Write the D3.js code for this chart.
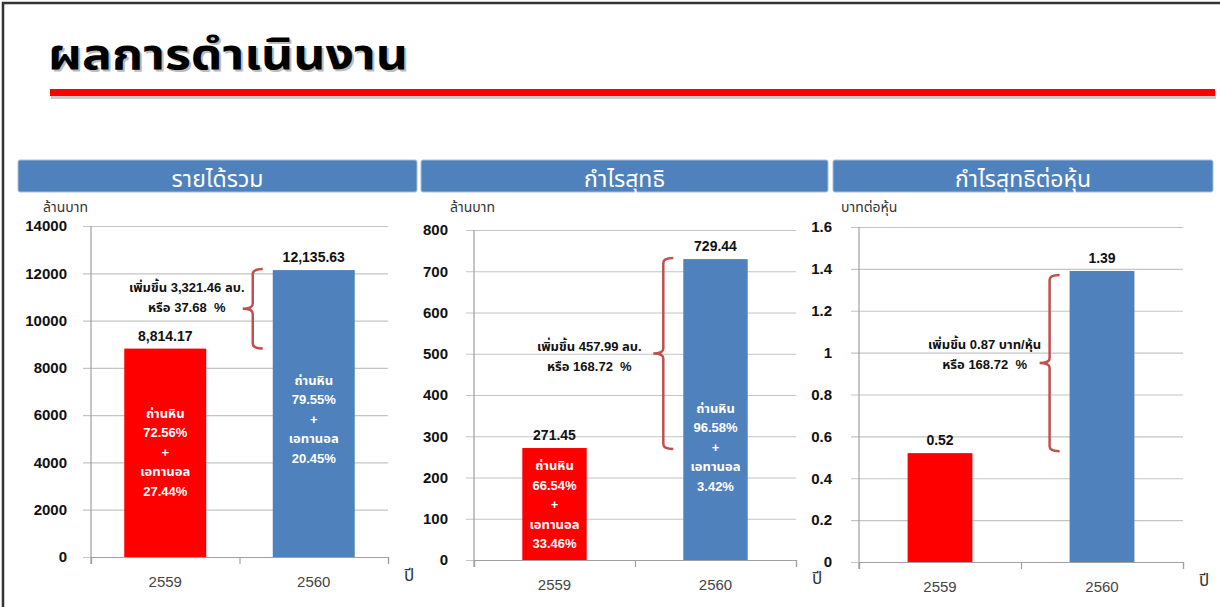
<!DOCTYPE html>
<html>
<head>
<meta charset="utf-8">
<script src="https://cdn.jsdelivr.net/npm/d3@7"></script>
<style>
  body { margin: 0; background: #fff; }
  svg { display: block; font-family: "Liberation Sans", Arial, "Noto Sans Thai", "Noto Sans", sans-serif; }
  .note { white-space: pre; }
</style>
</head>
<body>
<svg id="chart" width="1220" height="607"></svg>
<script>
// Data
var years = ["2559", "2560"];

var revenue = [8814.17, 12135.63];
var revenueTicks = [0, 2000, 4000, 6000, 8000, 10000, 12000, 14000];
var revenueLabels = ["8,814.17", "12,135.63"];
var revenueMix = [
    ["ถ่านหิน", "72.56%", "+", "เอทานอล", "27.44%"],
    ["ถ่านหิน", "79.55%", "+", "เอทานอล", "20.45%"]
];
var revenueNote = ["เพิ่มขึ้น 3,321.46 ลบ.", "หรือ 37.68  %"];

var profit = [271.45, 729.44];
var profitTicks = [0, 100, 200, 300, 400, 500, 600, 700, 800];
var profitLabels = ["271.45", "729.44"];
var profitMix = [
    ["ถ่านหิน", "66.54%", "+", "เอทานอล", "33.46%"],
    ["ถ่านหิน", "96.58%", "+", "เอทานอล", "3.42%"]
];
var profitNote = ["เพิ่มขึ้น 457.99 ลบ.", "หรือ 168.72  %"];

var eps = [0.52, 1.39];
var epsTicks = [0, 0.2, 0.4, 0.6, 0.8, 1, 1.2, 1.4, 1.6];
var epsLabels = ["0.52", "1.39"];
var epsNote = ["เพิ่มขึ้น 0.87 บาท/หุ้น", "หรือ 168.72  %"];

var barColors = ["#ff0000", "#4f81bd"];

var svg = d3.select("#chart");

// frame + title
svg.append("path")
    .attr("d", "M3,607V3H1220")
    .attr("fill", "none")
    .attr("stroke", "#333")
    .attr("stroke-width", 2.5);

svg.append("text")
    .attr("x", 50).attr("y", 71)
    .attr("fill", "#bbb")
    .attr("font-size", 43).attr("font-weight", "bold")
    .attr("textLength", 360).attr("lengthAdjust", "spacingAndGlyphs")
    .text("ผลการดำเนินงาน");
svg.append("text")
    .attr("x", 48).attr("y", 69)
    .attr("fill", "#000")
    .attr("font-size", 43).attr("font-weight", "bold")
    .attr("textLength", 360).attr("lengthAdjust", "spacingAndGlyphs")
    .text("ผลการดำเนินงาน");

svg.append("rect")
    .attr("x", 51).attr("y", 91).attr("width", 1165).attr("height", 8)
    .attr("fill", "#ccc");
svg.append("rect")
    .attr("x", 50).attr("y", 89).attr("width", 1165).attr("height", 7)
    .attr("fill", "#ff0000");

function panel(opt) {

    var g = svg.append("g").attr("class", "panel");

    // header bar
    g.append("rect")
        .attr("x", opt.hx).attr("y", 160)
        .attr("width", opt.hw).attr("height", 32)
        .attr("rx", 2)
        .attr("fill", "#4f81bd")
        .attr("stroke", "#a7bfdc").attr("stroke-width", 1);
    g.append("text")
        .attr("x", opt.hx + opt.hw / 2).attr("y", 187)
        .attr("text-anchor", "middle")
        .attr("fill", "#fff")
        .attr("font-size", 23)
        .text(opt.title);

    var y = d3.scaleLinear()
        .domain([0, opt.ticks[opt.ticks.length - 1]])
        .range([opt.y0, opt.y1]);

    var x = d3.scaleBand()
        .domain(years)
        .range([opt.ax, opt.right])
        .paddingInner(opt.pad)
        .paddingOuter(opt.pad / 2);

    // unit label
    g.append("text")
        .attr("x", opt.unitX).attr("y", 212)
        .attr("fill", "#333")
        .attr("font-size", 14)
        .text(opt.unit);

    // gridlines + tick labels
    var yAxis = g.append("g")
        .attr("transform", "translate(" + opt.right + ",0)")
        .call(d3.axisLeft(y)
            .tickValues(opt.ticks)
            .tickFormat(function(d, i) { return opt.tickText[i]; })
            .tickSize(opt.right - opt.ax + 8)
            .tickPadding(opt.labelGap - 8));
    yAxis.select(".domain").remove();
    yAxis.selectAll(".tick line").attr("stroke", "#c4c4c4").attr("stroke-width", 1.2);
    yAxis.selectAll(".tick text")
        .attr("fill", "#111")
        .attr("font-size", 15)
        .attr("font-weight", "bold")
        .attr("font-family", "Liberation Sans, Arial, sans-serif");

    // y axis line
    g.append("line")
        .attr("x1", opt.ax).attr("x2", opt.ax)
        .attr("y1", y.range()[1]).attr("y2", opt.y0 + 7)
        .attr("stroke", "#a0a0a0").attr("stroke-width", 1.2);

    // x axis with tick marks at band boundaries
    var xb = d3.scaleLinear().domain([0, years.length]).range([opt.ax, opt.right]);
    var xAxis = g.append("g")
        .attr("transform", "translate(0," + opt.y0 + ")")
        .call(d3.axisBottom(xb).tickValues(d3.range(years.length + 1)).tickSize(7).tickFormat(""));
    xAxis.selectAll("path, line").attr("stroke", "#a0a0a0").attr("stroke-width", 1.2);

    g.selectAll(".year")
        .data(years)
        .enter().append("text")
        .attr("class", "year")
        .attr("x", function(d) { return x(d) + x.bandwidth() / 2; })
        .attr("y", opt.y0 + 30)
        .attr("text-anchor", "middle")
        .attr("fill", "#444")
        .attr("font-size", 15)
        .text(function(d) { return d; });

    g.append("text")
        .attr("x", opt.right + 16).attr("y", opt.y0 + 24)
        .attr("fill", "#333")
        .attr("font-size", 17)
        .text("ปี");

    // bars
    g.selectAll(".bar")
        .data(opt.values)
        .enter().append("rect")
        .attr("class", "bar")
        .attr("x", function(d, i) { return x(years[i]); })
        .attr("y", function(d) { return y(d); })
        .attr("width", x.bandwidth())
        .attr("height", function(d) { return opt.y0 - y(d); })
        .attr("fill", function(d, i) { return barColors[i]; });

    g.selectAll(".value")
        .data(opt.values)
        .enter().append("text")
        .attr("class", "value")
        .attr("x", function(d, i) { return x(years[i]) + x.bandwidth() / 2; })
        .attr("y", function(d) { return y(d) - 8; })
        .attr("text-anchor", "middle")
        .attr("fill", "#111")
        .attr("font-size", 14)
        .attr("font-weight", "bold")
        .text(function(d, i) { return opt.labels[i]; });

    // mix labels inside bars
    if (opt.mix) {
        opt.mix.forEach(function(lines, i) {
            var cx = x(years[i]) + x.bandwidth() / 2;
            var cy = (y(opt.values[i]) + opt.y0) / 2 + opt.mixShift[i];
            var top = cy - (lines.length - 1) * 19.5 / 2;
            g.selectAll(".mix-" + i)
                .data(lines)
                .enter().append("text")
                .attr("x", cx)
                .attr("y", function(d, j) { return top + j * 19.5 + 4; })
                .attr("text-anchor", "middle")
                .attr("fill", "#fff")
                .attr("font-size", 13)
                .attr("font-weight", "bold")
                .text(function(d) { return d; });
        });
    }

    // brace between the two bar tops
    var yTop = y(opt.values[1]) + opt.braceTop;
    var yBot = y(opt.values[0]) + opt.braceBot;
    var xv = x(years[1]) - 20;
    var xr = xv + 10;
    var xt = xv - 10;
    var ym = (yTop + yBot) / 2;
    var r = 5;
    var brace = "M" + xr + "," + yTop +
        "Q" + xv + "," + yTop + " " + xv + "," + (yTop + r) +
        "L" + xv + "," + (ym - r) +
        "Q" + xv + "," + ym + " " + xt + "," + ym +
        "Q" + xv + "," + ym + " " + xv + "," + (ym + r) +
        "L" + xv + "," + (yBot - r) +
        "Q" + xv + "," + yBot + " " + xr + "," + yBot;
    g.append("path")
        .attr("d", brace)
        .attr("fill", "none")
        .attr("stroke", "#c0504d")
        .attr("stroke-width", 2.5);

    g.selectAll(".note")
        .data(opt.note)
        .enter().append("text")
        .attr("class", "note")
        .attr("x", xv + opt.noteDx[0])
        .attr("y", function(d, j) { return ym + opt.noteDy + j * 20; })
        .attr("text-anchor", "middle")
        .attr("fill", "#111")
        .attr("font-size", 13)
        .attr("font-weight", "bold")
        .text(function(d) { return d; });
}

panel({
    title: "รายได้รวม", hx: 18, hw: 399,
    unit: "ล้านบาท", unitX: 43,
    ax: 91, right: 388, y0: 557, y1: 226, pad: 0.448, labelGap: 24,
    ticks: revenueTicks, tickText: revenueTicks.map(String),
    values: revenue, labels: revenueLabels, mix: revenueMix, mixShift: [0, 6],
    note: revenueNote, noteDx: [-66], noteDy: -17, braceTop: -1, braceBot: 0
});

panel({
    title: "กำไรสุทธิ", hx: 421, hw: 407,
    unit: "ล้านบาท", unitX: 450,
    ax: 474, right: 796, y0: 560, y1: 230, pad: 0.6, labelGap: 26,
    ticks: profitTicks, tickText: profitTicks.map(String),
    values: profit, labels: profitLabels, mix: profitMix, mixShift: [1, 38],
    note: profitNote, noteDx: [-74], noteDy: -3, braceTop: -1, braceBot: 1
});

panel({
    title: "กำไรสุทธิต่อหุ้น", hx: 833, hw: 380,
    unit: "บาทต่อหุ้น", unitX: 841,
    ax: 859, right: 1183, y0: 562, y1: 227, pad: 0.6, labelGap: 27,
    ticks: epsTicks, tickText: epsTicks.map(String),
    values: eps, labels: epsLabels, mix: null, mixShift: [0, 0],
    note: epsNote, noteDx: [-65], noteDy: -14, braceTop: 4, braceBot: -2
});
</script>
</body>
</html>
